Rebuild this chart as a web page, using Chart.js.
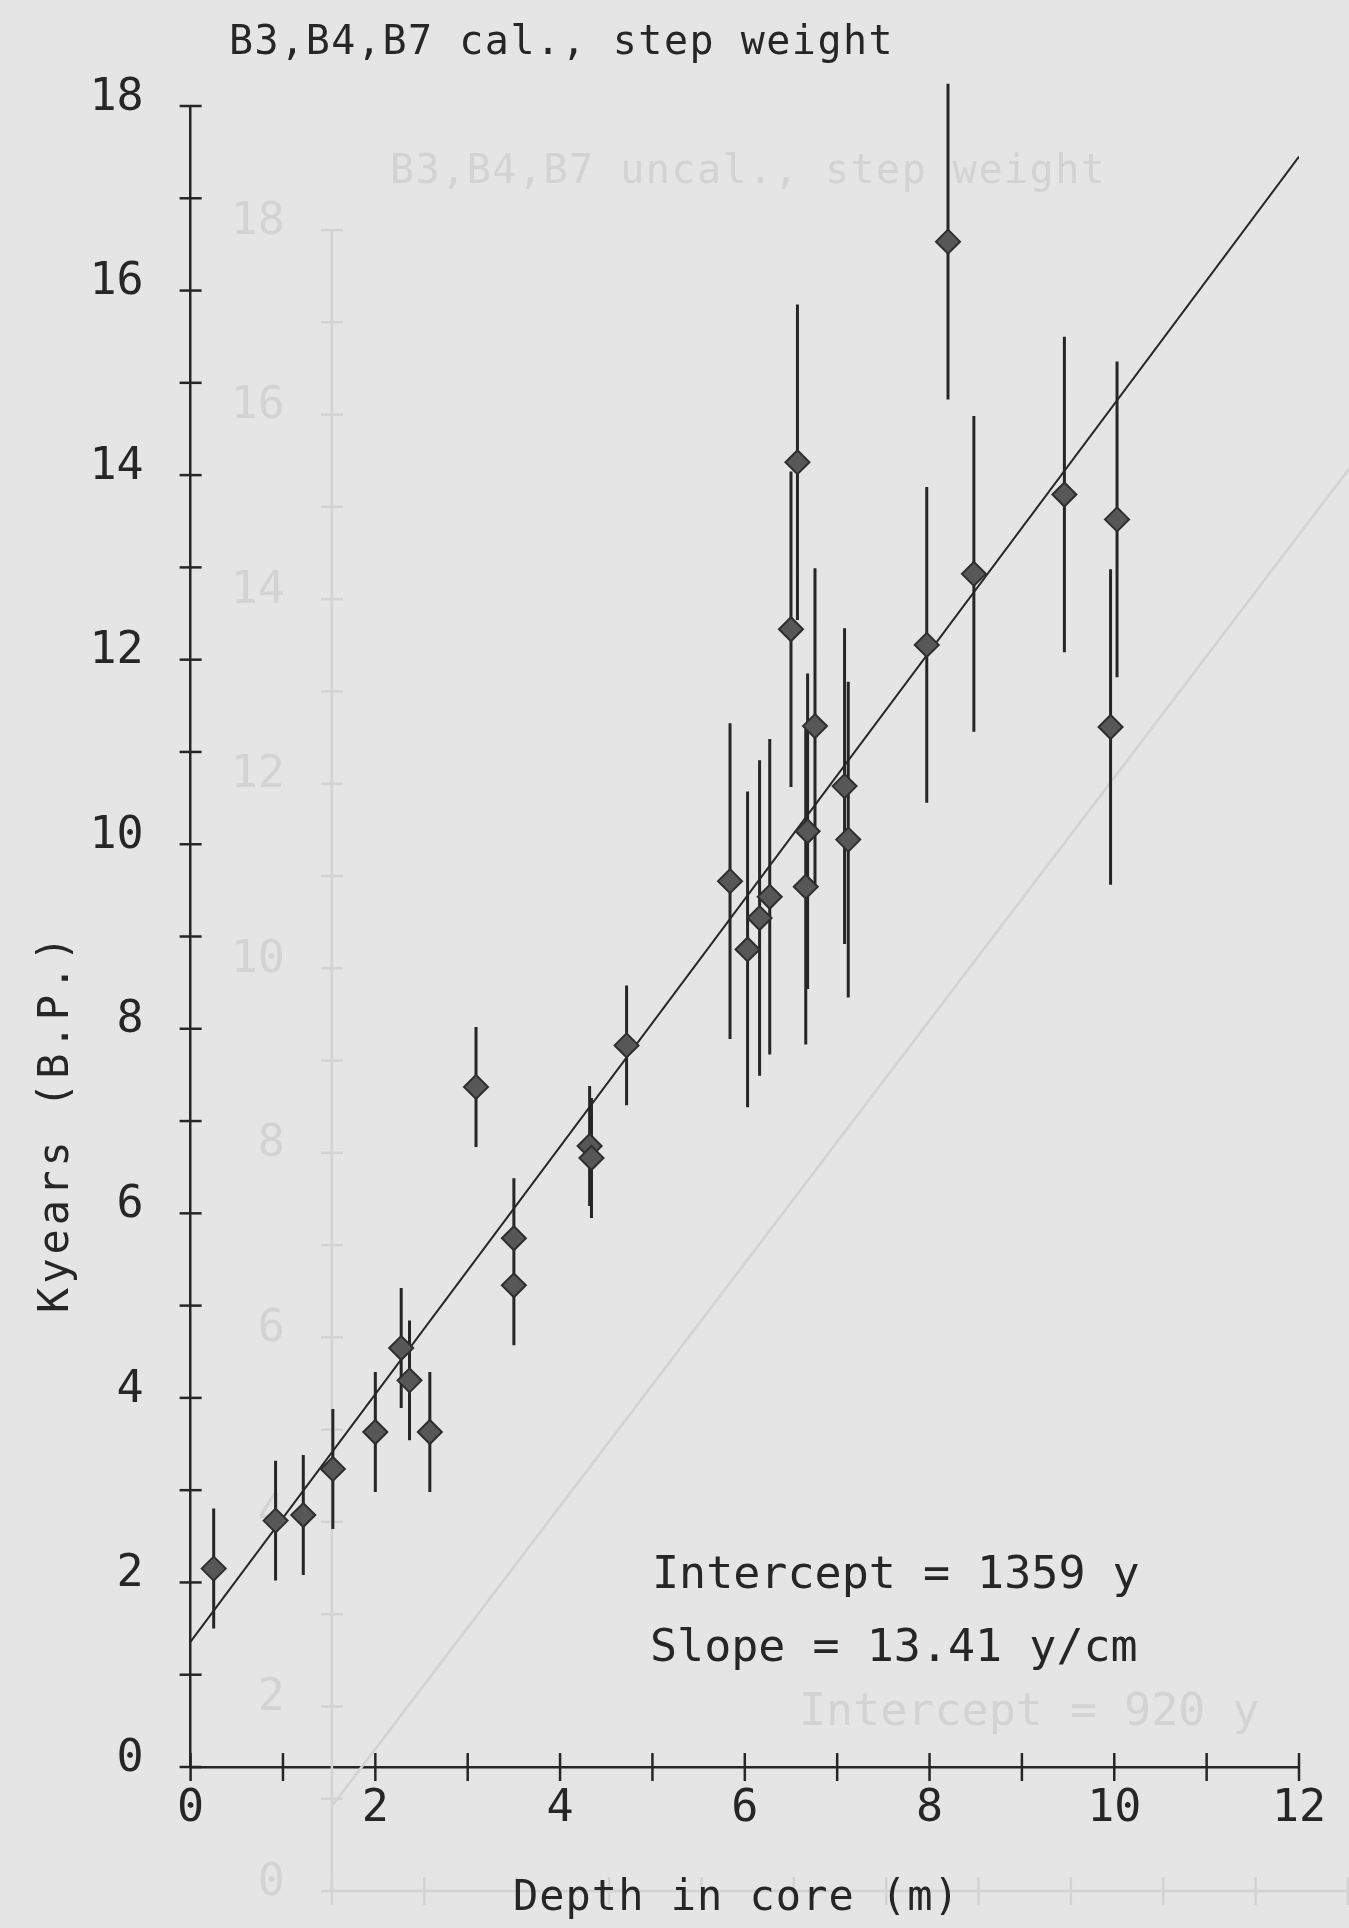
<!DOCTYPE html>
<html>
<head>
<meta charset="utf-8">
<script src="https://cdn.jsdelivr.net/npm/chart.js@4.4.1/dist/chart.umd.min.js"></script>
<style>
  html, body { margin: 0; padding: 0; background: #e5e5e5; }
  #wrap { position: relative; width: 1349px; height: 1928px; }
</style>
</head>
<body>
<div id="wrap"><canvas id="ageChart" width="1349" height="1928"></canvas></div>
<script>
// C14 dates down the core: depth (m), age (kyr BP) and the 1-sigma error (kyr)
const depths = [0.25, 0.92, 1.22, 1.54, 2.00, 2.28, 2.37, 2.59, 3.09, 3.50, 3.50,
  4.32, 4.34, 4.72, 5.84, 6.03, 6.16, 6.27, 6.50, 6.57, 6.66, 6.68, 6.76,
  7.08, 7.12, 7.97, 8.20, 8.48, 9.46, 9.96, 10.03];
const ages = [2.15, 2.67, 2.73, 3.23, 3.63, 4.54, 4.19, 3.63, 7.37, 5.73, 5.22,
  6.73, 6.60, 7.82, 9.60, 8.86, 9.20, 9.43, 12.33, 14.14, 9.54, 10.14, 11.28,
  10.63, 10.05, 12.16, 16.53, 12.93, 13.79, 11.27, 13.52];
const errors = [0.65, 0.65, 0.65, 0.65, 0.65, 0.65, 0.65, 0.65, 0.65, 0.65, 0.65,
  0.65, 0.65, 0.65, 1.71, 1.71, 1.71, 1.71, 1.71, 1.71, 1.71, 1.71, 1.71,
  1.71, 1.71, 1.71, 1.71, 1.71, 1.71, 1.71, 1.71];

// weighted fit
const intercept = 1359;  // y
const slope = 13.41;     // y/cm

const xTicks = [0, 2, 4, 6, 8, 10, 12];
const yTicks = [0, 2, 4, 6, 8, 10, 12, 14, 16, 18];

// the uncalibrated plot on the next sheet shows through the paper
const ghostIntercept = 920;   // y
const ghostSlope = 13.16;     // y/cm
const ghostYTicks = [0, 2, 4, 6, 8, 10, 12, 14, 16, 18];

const ink = '#262626';
const ghostInk = '#d3d3d3';
const mono = "'DejaVu Sans Mono', monospace";

const points = depths.map((d, i) => ({ x: d, y: ages[i] }));

// each error bar is its own segment, split by a null
const bars = [];
depths.forEach((d, i) => {
  bars.push({ x: d, y: ages[i] - errors[i] });
  bars.push({ x: d, y: ages[i] + errors[i] });
  bars.push({ x: d, y: null });
});

// fit lines across the whole depth axis (intercept in y, slope in y/cm -> kyr/m)
const fitLine = [0, 12].map(d => ({ x: d, y: (intercept + slope * 100 * d) / 1000 }));
const ghostLine = [0, 12].map(d => ({ x: d, y: (ghostIntercept + ghostSlope * 100 * d) / 1000 }));

const labels = [
  { text: 'B3,B4,B7 cal., step weight', x: 229, y: 54, size: 40, spacing: 1.5 },
  { text: 'Intercept = 1359 y', x: 652, y: 1588, size: 45, spacing: 0 },
  { text: 'Slope = 13.41 y/cm', x: 650, y: 1661, size: 45, spacing: 0 },
  { text: 'Depth in core (m)', x: 513, y: 1910, size: 42, spacing: 1 },
  { text: 'Kyears (B.P.)', x: 68, y: 1313, size: 42, spacing: 4, rotate: true }
];

const ghostLabels = [
  { text: 'B3,B4,B7 uncal., step weight', x: 390, y: 183, size: 40, spacing: 1.5 },
  { text: 'Intercept = 920 y', x: 799, y: 1725, size: 45, spacing: 0 }
];

function drawText(ctx, l) {
  ctx.save();
  ctx.font = l.size + 'px ' + mono;
  ctx.letterSpacing = l.spacing + 'px';
  ctx.translate(l.x, l.y);
  if (l.rotate) ctx.rotate(-Math.PI / 2);
  ctx.fillText(l.text, 0, 0);
  ctx.restore();
}

function tick(ctx, x1, y1, x2, y2) {
  ctx.beginPath();
  ctx.moveTo(x1, y1);
  ctx.lineTo(x2, y2);
  ctx.stroke();
}

// faint axes and lettering of the sheet underneath
const showThrough = {
  id: 'showThrough',
  beforeDatasetsDraw(chart) {
    const { ctx } = chart;
    const gx = chart.scales.xg, gy = chart.scales.yg;
    const x0 = gx.getPixelForValue(0);
    const y0 = gy.getPixelForValue(0);
    ctx.save();
    ctx.strokeStyle = ghostInk;
    ctx.fillStyle = ghostInk;
    ctx.lineWidth = 2.5;
    tick(ctx, x0, gy.getPixelForValue(18), x0, y0);
    tick(ctx, x0, y0, gx.getPixelForValue(12), y0);
    for (let v = 0; v <= 18; v++) {
      const py = gy.getPixelForValue(v);
      tick(ctx, x0 - 11, py, x0 + 11, py);
    }
    for (let v = 0; v <= 12; v++) {
      const px = gx.getPixelForValue(v);
      tick(ctx, px, y0 - 14, px, y0 + 14);
    }
    ctx.font = '45px ' + mono;
    ctx.textAlign = 'right';
    ctx.textBaseline = 'middle';
    ghostYTicks.forEach(v => ctx.fillText(String(v), x0 - 47, gy.getPixelForValue(v) - 8));
    ctx.textAlign = 'left';
    ctx.textBaseline = 'alphabetic';
    ghostLabels.forEach(l => drawText(ctx, l));
    ctx.restore();
  }
};

// crossing tick marks on both axes, plus the plot lettering
const plotterMarks = {
  id: 'plotterMarks',
  afterDraw(chart) {
    const { ctx, chartArea, scales } = chart;
    ctx.save();
    ctx.strokeStyle = ink;
    ctx.lineWidth = 2.5;
    scales.y.ticks.forEach(t => {
      const py = scales.y.getPixelForValue(t.value);
      tick(ctx, chartArea.left - 11, py, chartArea.left + 11, py);
    });
    scales.x.ticks.forEach(t => {
      const px = scales.x.getPixelForValue(t.value);
      tick(ctx, px, chartArea.bottom - 14, px, chartArea.bottom + 14);
    });
    ctx.fillStyle = ink;
    ctx.textAlign = 'left';
    ctx.textBaseline = 'alphabetic';
    labels.forEach(l => drawText(ctx, l));
    ctx.restore();
  }
};

Chart.defaults.font.family = mono;
Chart.defaults.color = ink;

new Chart('ageChart', {
  type: 'scatter',
  data: {
    datasets: [
      {
        data: points,
        pointStyle: 'rectRot',
        pointRadius: 12,
        backgroundColor: '#575757',
        borderColor: '#2e2e2e',
        borderWidth: 2,
        clip: false,
        order: 1
      },
      {
        type: 'line',
        data: fitLine,
        borderColor: ink,
        borderWidth: 2,
        pointRadius: 0,
        order: 2
      },
      {
        type: 'line',
        data: bars,
        borderColor: ink,
        borderWidth: 3,
        pointRadius: 0,
        spanGaps: false,
        clip: false,
        order: 3
      },
      {
        type: 'line',
        data: ghostLine,
        xAxisID: 'xg',
        yAxisID: 'yg',
        borderColor: ghostInk,
        borderWidth: 2.5,
        pointRadius: 0,
        clip: false,
        order: 4
      }
    ]
  },
  options: {
    responsive: false,
    animation: false,
    devicePixelRatio: 1,
    layout: { padding: { top: 106, right: 50, left: 0, bottom: 0 } },
    plugins: { legend: { display: false }, tooltip: { enabled: false } },
    scales: {
      x: {
        type: 'linear',
        min: 0,
        max: 12,
        afterFit(scale) { scale.height = 161; },
        grid: { display: false, drawTicks: false },
        border: { display: true, color: ink, width: 2.5 },
        ticks: {
          stepSize: 1,
          autoSkip: false,
          maxRotation: 0,
          padding: 15,
          font: { size: 45 },
          callback: v => xTicks.includes(v) ? String(v) : ''
        }
      },
      y: {
        type: 'linear',
        min: 0,
        max: 18,
        afterFit(scale) { scale.width = 190.6; },
        grid: { display: false, drawTicks: false },
        border: { display: true, color: ink, width: 2.5 },
        ticks: {
          stepSize: 1,
          autoSkip: false,
          padding: 47,
          labelOffset: -8,
          font: { size: 45 },
          callback: v => yTicks.includes(v) ? String(v) : ''
        }
      },
      // the sheet underneath sits lower and further right, same units per pixel
      xg: { type: 'linear', display: false, min: -1.53, max: 10.47 },
      yg: { type: 'linear', display: false, min: 1.344, max: 19.344 }
    }
  },
  plugins: [showThrough, plotterMarks]
});
</script>
</body>
</html>
